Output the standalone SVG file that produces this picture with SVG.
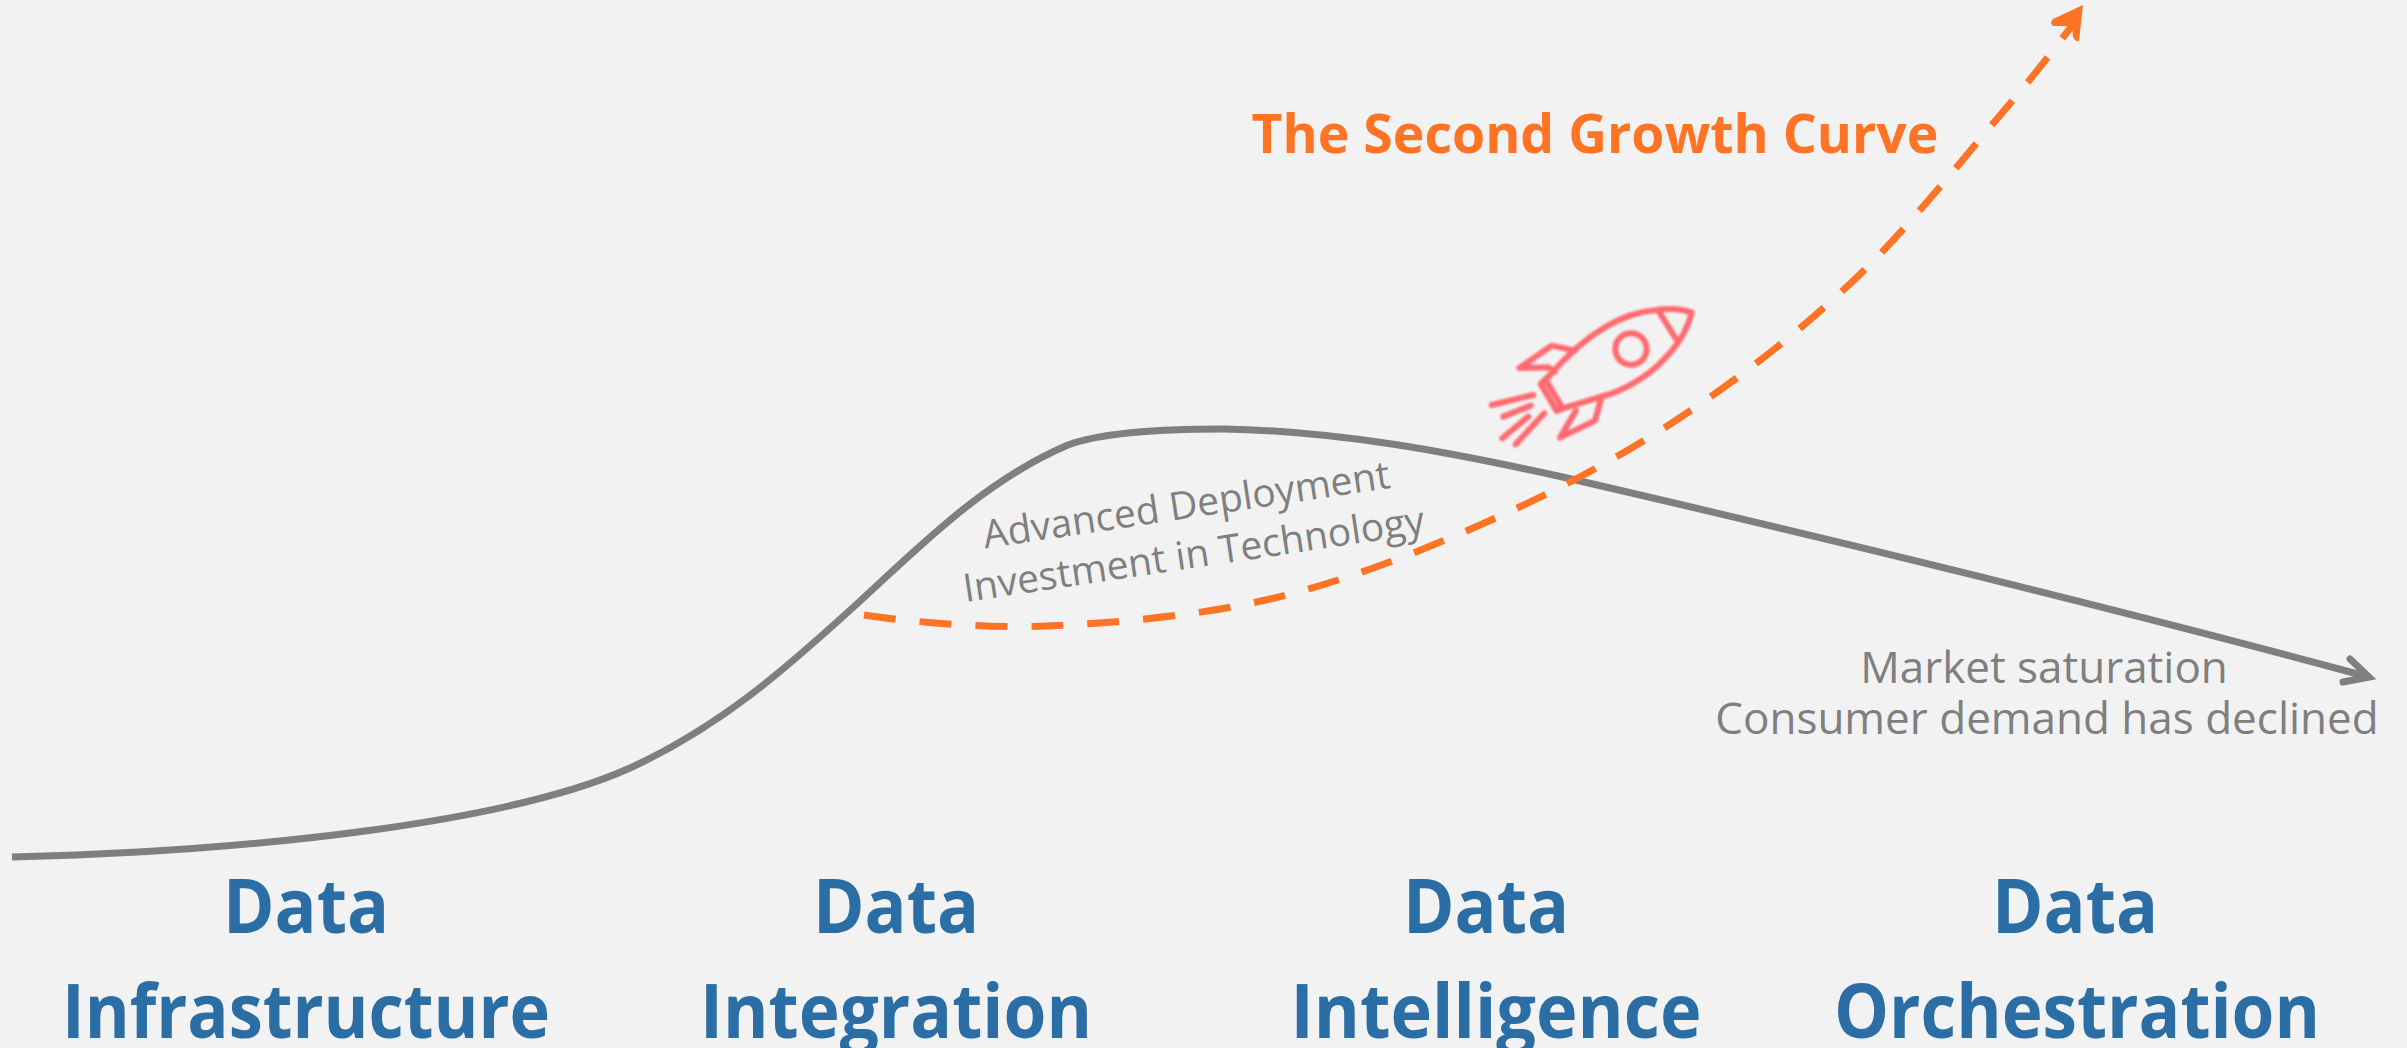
<svg xmlns="http://www.w3.org/2000/svg" width="2407" height="1048" viewBox="0 0 2407 1048">
<style>
.head{font-family:"Open Sans","Noto Sans",sans-serif;font-weight:700;font-size:76px;fill:#2b6ea6;text-anchor:middle}
.note{font-family:"Open Sans","Noto Sans",sans-serif;font-size:44px;fill:#7f7f7f;text-anchor:middle}
.adv{font-family:"Open Sans","Noto Sans",sans-serif;font-size:39px;fill:#7f7f7f;text-anchor:middle}
.title{font-family:"Open Sans","Noto Sans",sans-serif;font-weight:700;font-size:54px;fill:#ff7324;text-anchor:middle}
.rk{fill:none;stroke:#ff6b70;stroke-width:18;stroke-linecap:round;stroke-linejoin:round}
</style>
<defs><filter id="soft" x="-5%" y="-5%" width="110%" height="110%"><feGaussianBlur stdDeviation="2.5"/></filter></defs>
<rect width="2407" height="1048" fill="#f2f2f2"/>
<g id="connectors" fill="none" stroke-linejoin="round">
<path id="first-curve" d="M12,857 C260,851 510,822 630,768 C730,722 800,655 858,603 C920,546 985,480 1068,445 C1105,431 1180,429 1224,429 C1340,431 1450,452 1567,478 C1800,532 2100,604 2365,676" stroke="#7f7f7f" stroke-width="7"/>
<path d="M2350,659 L2369,677 L2343,682" stroke="#7f7f7f" stroke-width="7" stroke-linecap="round" stroke-linejoin="miter"/>
<path id="second-curve" d="M864,615 C895,620 980,629 1047,626 C1114,623 1198,616 1270,599 C1342,582 1412,555 1480,525 C1548,495 1616,460 1678,419 C1740,378 1799,332 1853,281 C1907,230 1965,156 2002,113 C2039,70 2063,37 2075,22" stroke="#ff7324" stroke-width="7" stroke-dasharray="32 24"/>
<path d="M2083,5 L2053,19 Q2049,23 2053,26 L2064,26 L2072,27 L2073,37 Q2075,42 2079,41 Z" fill="#ff7324"/>
</g>
<g id="rocket" transform="translate(1450 280) scale(.3333)" filter="url(#soft)">
<path class="rk" d="M300,285 C370,205 480,100 620,90 Q680,82 725,98 C715,140 690,190 640,240 C590,295 510,335 455,350 L355,380 L320,393 L272,312 Z"/>
<path class="rk" d="M290,305 L335,380 M625,92 L680,180 M375,212 L305,197 L208,264 L295,262 L315,275 M455,350 L435,422 L330,473 L378,392 M125,375 L250,345 M160,410 L242,377 M157,475 L235,410 M197,493 L283,400"/>
<circle class="rk" cx="543" cy="207" r="47"/>
</g>
<g id="title"><text class="title" x="1595" y="153" textLength="687" lengthAdjust="spacingAndGlyphs">The Second Growth Curve</text></g>
<g id="advanced-note" transform="rotate(-8.5 1190 530)">
<text class="adv" x="1190" y="518">Advanced Deployment</text>
<text class="adv" x="1190" y="568">Investment in Technology</text>
</g>
<g id="market-note">
<text class="note" x="2044" y="683">Market saturation</text>
<text class="note" x="2047" y="734">Consumer demand has declined</text>
</g>
<g id="stage-1"><text class="head" x="306" y="933" textLength="166" lengthAdjust="spacingAndGlyphs">Data</text><text class="head" x="306" y="1038" textLength="488" lengthAdjust="spacingAndGlyphs">Infrastructure</text></g>
<g id="stage-2"><text class="head" x="896" y="933" textLength="166" lengthAdjust="spacingAndGlyphs">Data</text><text class="head" x="896" y="1038" textLength="392" lengthAdjust="spacingAndGlyphs">Integration</text></g>
<g id="stage-3"><text class="head" x="1486" y="933" textLength="166" lengthAdjust="spacingAndGlyphs">Data</text><text class="head" x="1496" y="1038" textLength="411" lengthAdjust="spacingAndGlyphs">Intelligence</text></g>
<g id="stage-4"><text class="head" x="2075" y="933" textLength="166" lengthAdjust="spacingAndGlyphs">Data</text><text class="head" x="2077" y="1038" textLength="486" lengthAdjust="spacingAndGlyphs">Orchestration</text></g>
</svg>
